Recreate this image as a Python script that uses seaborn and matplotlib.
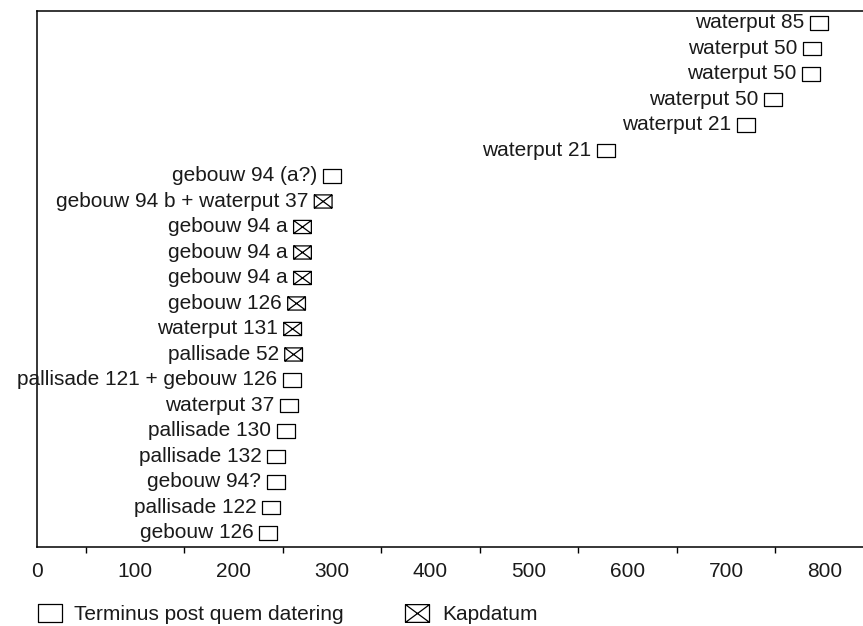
import numpy as np
import pandas as pd
import matplotlib
matplotlib.use("Agg")
import matplotlib.pyplot as plt
from matplotlib.path import Path
from matplotlib.lines import Line2D
from matplotlib.ticker import MultipleLocator
import seaborn as sns

# Data (top row first)
labels = ["waterput 85", "waterput 50", "waterput 50", "waterput 50", "waterput 21",
          "waterput 21", "gebouw 94 (a?)", "gebouw 94 b + waterput 37", "gebouw 94 a",
          "gebouw 94 a", "gebouw 94 a", "gebouw 126", "waterput 131", "pallisade 52",
          "pallisade 121 + gebouw 126", "waterput 37", "pallisade 130", "pallisade 132",
          "gebouw 94?", "pallisade 122", "gebouw 126"]
years = [794, 787, 786, 748, 720, 578, 300, 291, 270, 270, 270, 264, 260, 261,
         259, 256, 253, 243, 243, 238, 235]
kinds = ["tpq", "tpq", "tpq", "tpq", "tpq", "tpq", "tpq", "kap", "kap", "kap", "kap",
         "kap", "kap", "kap", "tpq", "tpq", "tpq", "tpq", "tpq", "tpq", "tpq"]
legend_labels = {"tpq": "Terminus post quem datering", "kap": "Kapdatum"}
xticks = [0, 100, 200, 300, 400, 500, 600, 700, 800]

n = len(labels)
df = pd.DataFrame({"label": labels, "jaar": years, "type": kinds,
                   "rij": np.arange(n)[::-1]})

sns.set_theme(style="white")
plt.rcParams["font.family"] = ["Liberation Sans", "DejaVu Sans"]

# markers: flat rectangle and rectangle with a cross
h = 0.74
rect = Path([(-1, -h), (1, -h), (1, h), (-1, h), (-1, -h)],
            [Path.MOVETO, Path.LINETO, Path.LINETO, Path.LINETO, Path.CLOSEPOLY])
xbox = Path([(-1, -h), (1, -h), (1, h), (-1, h), (-1, -h),
             (-1, -h), (1, h), (-1, h), (1, -h)],
            [Path.MOVETO, Path.LINETO, Path.LINETO, Path.LINETO, Path.CLOSEPOLY,
             Path.MOVETO, Path.LINETO, Path.MOVETO, Path.LINETO])
markers = {"tpq": rect, "kap": xbox}

fig = plt.figure(figsize=(8.63, 6.26), dpi=100)
ax = fig.add_axes([36.5 / 863, 79 / 626, 1 - 36.5 / 863, (547 - 11) / 626])

sns.scatterplot(data=df, x="jaar", y="rij", style="type", markers=markers,
                s=12.8 ** 2, color="white", edgecolor="black", linewidth=0.9,
                legend=False, ax=ax, zorder=3)

fs = 15
for _, r in df.iterrows():
    ax.annotate(r["label"], xy=(r["jaar"], r["rij"]), xytext=(-14.5, 0),
                textcoords="offset pixels", ha="right", va="center",
                fontsize=fs, color="#1a1a1a", annotation_clip=False)

ax.set_xlim(0, 839)
ax.set_ylim(-0.55, n - 0.53)
ax.set_xticks(xticks)
ax.set_xticklabels([str(t) for t in xticks], fontsize=fs, color="#1a1a1a")
ax.xaxis.set_minor_locator(MultipleLocator(100, offset=50))
ax.tick_params(axis="x", which="major", length=0, pad=10.5)
ax.tick_params(axis="x", which="minor", bottom=True, length=4.3, width=1, color="black")
ax.set_yticks([])
ax.set_xlabel("")
ax.set_ylabel("")
for side in ["top", "bottom", "left"]:
    ax.spines[side].set_visible(True)
    ax.spines[side].set_color("black")
    ax.spines[side].set_linewidth(1.1)
ax.spines["right"].set_visible(False)

handles = [Line2D([], [], ls="", marker=markers[k], markersize=17.3,
                  markerfacecolor="white", markeredgecolor="black",
                  markeredgewidth=0.9, label=legend_labels[k]) for k in ["tpq", "kap"]]
fig.legend(handles=handles, loc="center left", bbox_to_anchor=(37 / 863, 11 / 626),
           ncol=2, frameon=False, fontsize=fs, borderpad=0, borderaxespad=0,
           handlelength=1.2, handletextpad=0.6, columnspacing=2.9,
           labelcolor="#1a1a1a")

fig.savefig("out.png", dpi=100)
